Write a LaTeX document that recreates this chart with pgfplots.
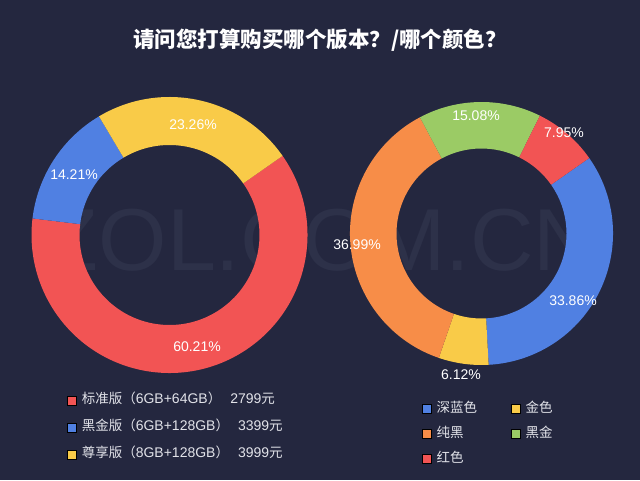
\documentclass[border=0pt]{standalone}
\usepackage{pgfplots}
\pgfplotsset{compat=1.18}
\usepackage{pgfplotstable}
\usepackage{fontspec}
\setmainfont{Liberation Sans}
\newfontfamily\cjk{Noto Sans CJK SC}
\definecolor{bg}{RGB}{36,39,63}
\definecolor{cRed}{RGB}{242,84,84}
\definecolor{cBlue}{RGB}{80,128,226}
\definecolor{cYellow}{RGB}{249,203,72}
\definecolor{cOrange}{RGB}{247,141,72}
\definecolor{cGreen}{RGB}{155,203,101}
\definecolor{wm}{RGB}{45,49,73}
\definecolor{lgtext}{RGB}{226,227,233}

\pgfplotstableread{
value color
60.21 cRed
14.21 cBlue
23.26 cYellow
}\leftdata
\pgfplotstableread{
value color
33.86 cBlue
6.12 cYellow
36.99 cOrange
15.08 cGreen
7.95 cRed
}\rightdata

\newcommand\computeangles[3]{%
  \pgfplotstablegetrowsof{#1}\pgfmathtruncatemacro\lastrow{\pgfplotsretval-1}%
  \def\tot{0}%
  \pgfplotsforeachungrouped \i in {0,...,\lastrow}{%
    \pgfplotstablegetelem{\i}{value}\of{#1}%
    \pgfmathsetmacro\tot{\tot+\pgfplotsretval}}%
  \def\cur{#3}%
  \pgfplotsforeachungrouped \i in {0,...,\lastrow}{%
    \pgfplotstablegetelem{\i}{value}\of{#1}%
    \pgfmathsetmacro\nxt{\cur-\pgfplotsretval/\tot*360}%
    \expandafter\xdef\csname #2a\i\endcsname{\cur}%
    \expandafter\xdef\csname #2b\i\endcsname{\nxt}%
    \pgfplotstablegetelem{\i}{color}\of{#1}%
    \expandafter\xdef\csname #2c\i\endcsname{\pgfplotsretval}%
    \let\cur\nxt}%
}
\newcommand\drawdonut[6]{%
  \pgfplotsinvokeforeach{0,...,#2}{%
    \edef\tmp{\noexpand\fill[fill=\csname #1c##1\endcsname] (axis cs:#3,#4) ++(\csname #1a##1\endcsname:#5pt) arc[start angle=\csname #1a##1\endcsname, end angle=\csname #1b##1\endcsname, radius=#5pt] -- ([shift={(\csname #1b##1\endcsname:#6pt)}]axis cs:#3,#4) arc[start angle=\csname #1b##1\endcsname, end angle=\csname #1a##1\endcsname, radius=#6pt] -- cycle;}\tmp
  }}

\computeangles{\leftdata}{L}{35}
\computeangles{\rightdata}{R}{35}

\newcommand\C[1]{{\cjk #1}}
\pgfplotsset{
  sq legend/.style={legend image code/.code={\fill[##1] (0pt,-4.5pt) rectangle (9pt,4.5pt);}},
  canvas/.style={x=1pt,y=1pt,xmin=0,xmax=640,ymin=0,ymax=480,hide axis,clip=false,
    legend cell align=left},
}

\begin{document}
\begin{tikzpicture}
\begin{axis}[canvas,
  legend style={at={(0.1050,0.1802)}, anchor=north west, draw=none, fill=none, text=lgtext,
    font=\fontsize{14}{16}\selectfont, inner sep=0pt, row sep=14pt,
    nodes={inner sep=0pt, text height=10pt, text depth=3pt},
    /tikz/every odd column/.append style={column sep=5pt}}]
  \fill[bg] (axis cs:0,0) rectangle (axis cs:640,480);
  \node[text=wm, font=\fontsize{88}{90}\selectfont, anchor=base] at (axis cs:321,210) {ZOL.COM.CN};
  \node[text=white, font=\cjk\bfseries\fontsize{21.5}{24}\selectfont] at (axis cs:320,440) {请问您打算购买哪个版本？/哪个颜色？};
  \drawdonut{L}{2}{169.5}{245}{138}{90}
  \node[text=white, font=\fontsize{14}{16}\selectfont] at (axis cs:197,133) {60.21\%};
  \node[text=white, font=\fontsize{14}{16}\selectfont] at (axis cs:193,355) {23.26\%};
  \node[text=white, font=\fontsize{14}{16}\selectfont] at (axis cs:74,305) {14.21\%};
  \addlegendimage{sq legend, fill=cRed}
  \addlegendentry{\C{\fontsize{13.5}{16}\selectfont 标准版（}6GB+64GB\C{\fontsize{13.5}{16}\selectfont ）}\hspace{9pt}2799\C{\fontsize{13.5}{16}\selectfont 元}}
  \addlegendimage{sq legend, fill=cBlue}
  \addlegendentry{\C{\fontsize{13.5}{16}\selectfont 黑金版（}6GB+128GB\C{\fontsize{13.5}{16}\selectfont ）}\hspace{9pt}3399\C{\fontsize{13.5}{16}\selectfont 元}}
  \addlegendimage{sq legend, fill=cYellow}
  \addlegendentry{\C{\fontsize{13.5}{16}\selectfont 尊享版（}8GB+128GB\C{\fontsize{13.5}{16}\selectfont ）}\hspace{9pt}3999\C{\fontsize{13.5}{16}\selectfont 元}}
\end{axis}
\begin{axis}[canvas, legend columns=2,
  legend style={at={(0.6594,0.1615)}, anchor=north west, draw=none, fill=none, text=lgtext,
    font=\cjk\fontsize{13.5}{16}\selectfont, inner sep=0pt, row sep=12pt,
    nodes={inner sep=0pt, text height=10pt, text depth=3pt},
    /tikz/every odd column/.append style={column sep=5pt},
    /tikz/every even column/.append style={column sep=34pt}}]
  \drawdonut{R}{4}{481.5}{246.5}{131.5}{85}
  \node[text=white, font=\fontsize{14}{16}\selectfont] at (axis cs:564,347) {7.95\%};
  \node[text=white, font=\fontsize{14}{16}\selectfont] at (axis cs:476,364) {15.08\%};
  \node[text=white, font=\fontsize{14}{16}\selectfont] at (axis cs:573,179) {33.86\%};
  \node[text=white, font=\fontsize{14}{16}\selectfont] at (axis cs:461,105) {6.12\%};
  \node[text=white, font=\fontsize{14}{16}\selectfont] at (axis cs:357,235) {36.99\%};
  \addlegendimage{sq legend, fill=cBlue}
  \addlegendentry{深蓝色}
  \addlegendimage{sq legend, fill=cYellow}
  \addlegendentry{金色}
  \addlegendimage{sq legend, fill=cOrange}
  \addlegendentry{纯黑}
  \addlegendimage{sq legend, fill=cGreen}
  \addlegendentry{黑金}
  \addlegendimage{sq legend, fill=cRed}
  \addlegendentry{红色}
\end{axis}
\end{tikzpicture}
\end{document}
